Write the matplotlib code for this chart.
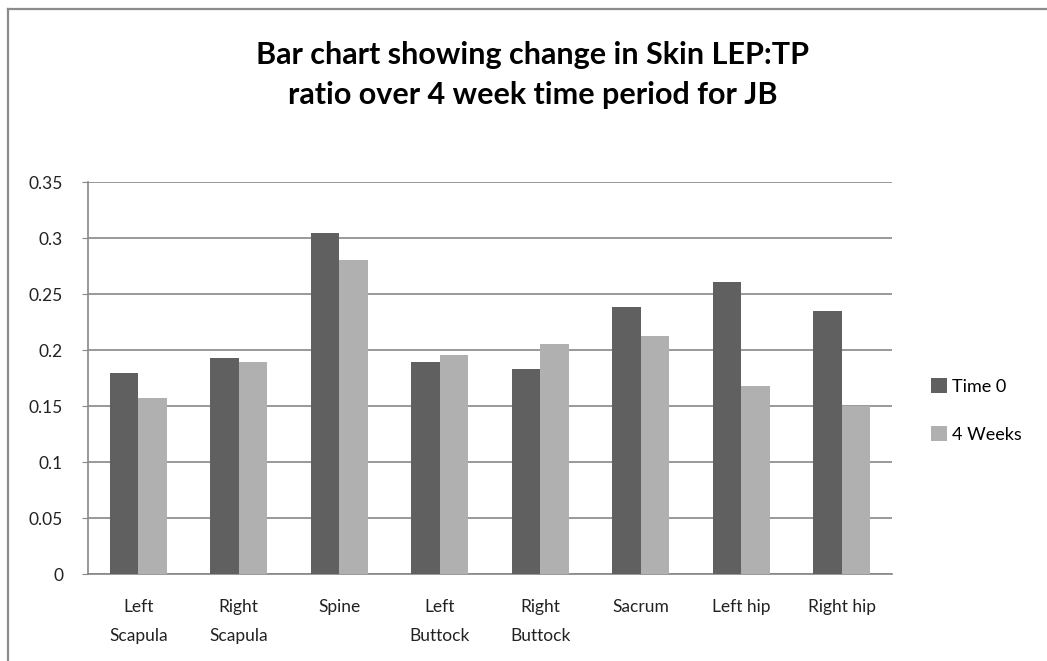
import numpy as np
import matplotlib
matplotlib.use('Agg')
import matplotlib.pyplot as plt
from matplotlib.lines import Line2D

sites = ['Left\nScapula', 'Right\nScapula', 'Spine', 'Left\nButtock',
         'Right\nButtock', 'Sacrum', 'Left hip', 'Right hip']
time_0 = [0.180, 0.193, 0.305, 0.190, 0.183, 0.239, 0.261, 0.235]
weeks_4 = [0.157, 0.190, 0.281, 0.196, 0.206, 0.213, 0.168, 0.150]
y_ticks = [0, 0.05, 0.1, 0.15, 0.2, 0.25, 0.3, 0.35]
y_labels = ['0', '0.05', '0.1', '0.15', '0.2', '0.25', '0.3', '0.35']

dark = '#606060'
light = '#b0b0b0'
grid_col = '#878787'
font = 'Lato'

W, H = 1047, 661
fig = plt.figure(figsize=(W / 100, H / 100), dpi=100)
fig.patch.set_facecolor('white')

# chart area frame (runs off the right and bottom edges)
fig.add_artist(Line2D([7.5 / W, 1.0], [1 - 8.5 / H, 1 - 8.5 / H],
                      transform=fig.transFigure, color='#8c8c8c', lw=1.6))
fig.add_artist(Line2D([7.5 / W, 7.5 / W], [0, 1 - 8.5 / H],
                      transform=fig.transFigure, color='#8c8c8c', lw=1.6))

ax = fig.add_axes([88 / W, 1 - 574.3 / H, (892 - 88) / W, (574.3 - 182.3) / H])

x = np.arange(len(sites))
w = 1 / 3.5
ax.bar(x - w / 2, time_0, w, color=dark, label='Time 0', zorder=3)
ax.bar(x + w / 2, weeks_4, w, color=light, label='4 Weeks', zorder=3)

ax.set_xlim(-0.5, len(sites) - 0.5)
ax.set_ylim(0, 0.35)
ax.set_yticks(y_ticks)
ax.set_yticklabels(y_labels, fontsize=12.5, family=font, color='#222222')
ax.set_xticks(x)
ax.set_xticklabels(sites, fontsize=12.5, family=font, color='#222222',
                   linespacing=1.95)
ax.tick_params(axis='x', length=0, pad=18)
ax.tick_params(axis='y', length=4, color=grid_col, pad=14)
ax.grid(axis='y', color=grid_col, lw=1.2, zorder=0)
for side in ['top', 'right']:
    ax.spines[side].set_visible(False)
for side in ['left', 'bottom']:
    ax.spines[side].set_color(grid_col)
    ax.spines[side].set_linewidth(1.2)

fig.text(533 / W, 1 - 55 / H, 'Bar chart showing change in Skin LEP:TP',
         ha='center', va='center', fontsize=22, fontweight='bold', family=font)
fig.text(533 / W, 1 - 95 / H, 'ratio over 4 week time period for JB',
         ha='center', va='center', fontsize=22, fontweight='bold', family=font)

leg = ax.legend(loc='center left', bbox_to_anchor=(1.028, 0.418), frameon=False,
                prop={'family': font, 'size': 13}, handlelength=0.9,
                handleheight=0.9, handletextpad=0.3, labelspacing=1.75)

fig.savefig('out.png', dpi=100)
